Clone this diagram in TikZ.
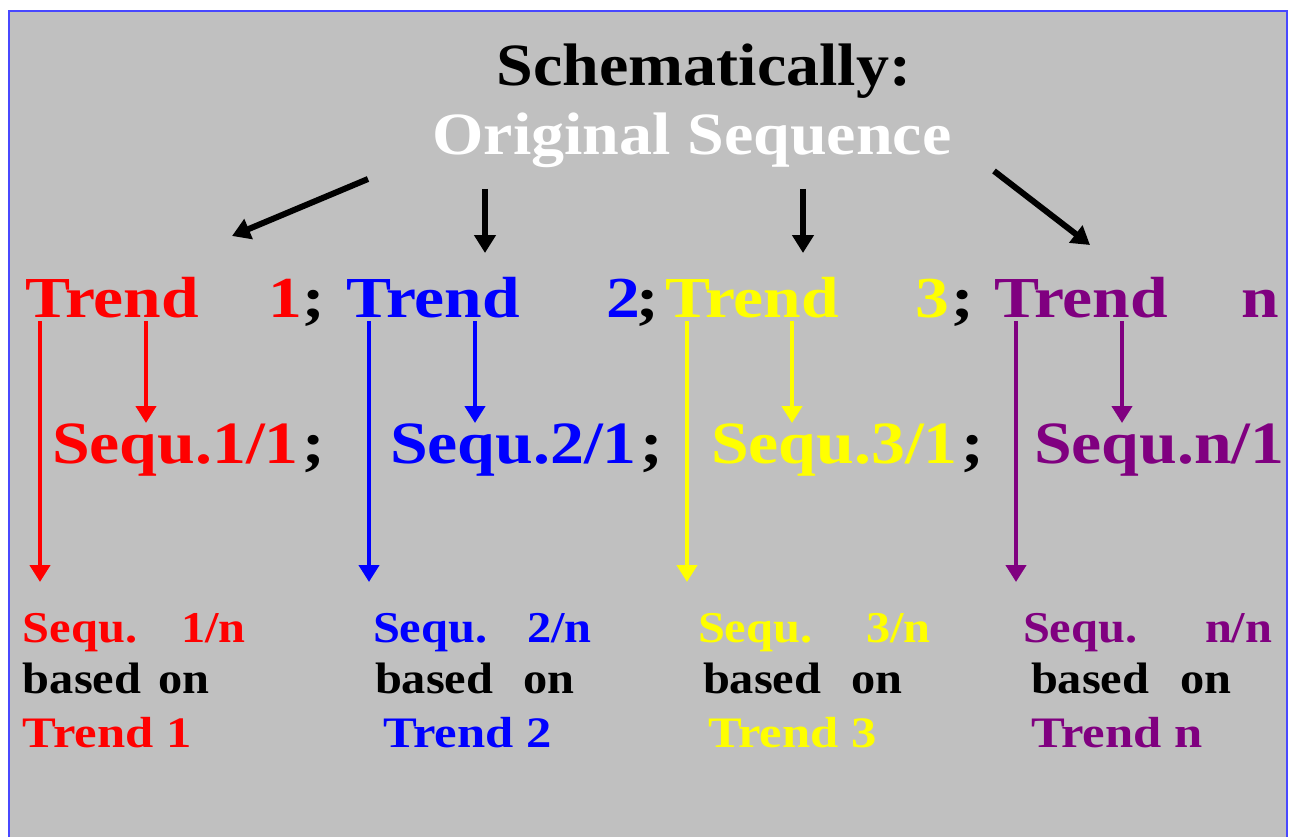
\documentclass[tikz,border=0pt]{standalone}
\usepackage{fontspec}
\setmainfont{Liberation Serif}[FakeStretch=1.1]
\newfontfamily\widefont{Liberation Serif}[FakeStretch=1.165]
\newfontfamily\midfont{Liberation Serif}[FakeStretch=1.13]
\usetikzlibrary{arrows.meta}
\definecolor{bggray}{HTML}{C0C0C0}
\definecolor{frameblue}{HTML}{4848FF}
\definecolor{tred}{HTML}{FF0000}
\definecolor{tblue}{HTML}{0000FF}
\definecolor{tyellow}{HTML}{FFFF00}
\definecolor{tpurple}{HTML}{800080}
\tikzset{
  txt/.style={inner sep=0pt, outer sep=0pt, anchor=base west, font=\bfseries},
  title/.style={txt, anchor=base, font=\bfseries\fontsize{60}{66}\selectfont},
  big/.style={txt, font=\widefont\bfseries\fontsize{58}{64}\selectfont},
  mid/.style={txt, font=\midfont\bfseries\fontsize{60}{66}\selectfont},
  small/.style={txt, font=\bfseries\fontsize{44}{50}\selectfont},
  smallwide/.style={txt, font=\widefont\bfseries\fontsize{43.5}{50}\selectfont},
  blackarr/.style={line width=6pt, -{Triangle[width=21pt,length=18pt]}, black},
  colarr/.style={line width=4.5pt, -{Triangle[width=20pt,length=17pt]}},
}
\begin{document}
\begin{tikzpicture}[x=1pt,y=-1pt]
\useasboundingbox (0,0) rectangle (1290,837);
\fill[white] (0,0) rectangle (1290,837);
\filldraw[fill=bggray, draw=frameblue, line width=2pt] (9,11) rectangle (1287,845);

% title
\node[title, text=black] (title) at (704,86) {Schematically:};
\node[title, text=white] (orig) at (692,155) {Original Sequence};

% row 2: trends
\node[big, text=tred] (t1) at (25,317) {Trend};
\node[big, text=tred] (n1) at (268,317) {1};
\node[big, text=black] (c1) at (302,317) {;};
\node[big, text=tblue] (t2) at (346,317) {Trend};
\node[big, text=tblue] (n2) at (606,317) {2};
\node[big, text=black] (c2) at (636,317) {;};
\node[big, text=tyellow] (t3) at (665,317) {Trend};
\node[big, text=tyellow] (n3) at (915,317) {3};
\node[big, text=black] (c3) at (951,317) {;};
\node[big, text=tpurple] (t4) at (994,317) {Trend};
\node[big, text=tpurple] (n4) at (1241,317) {n};

% row 3: first sequences
\node[mid, text=tred] (q1) at (52,463) {Sequ.1/1};
\node[mid, text=black] (d1) at (302,463) {;};
\node[mid, text=tblue] (q2) at (390,463) {Sequ.2/1};
\node[mid, text=black] (d2) at (640,463) {;};
\node[mid, text=tyellow] (q3) at (711,463) {Sequ.3/1};
\node[mid, text=black] (d3) at (961,463) {;};
\node[mid, text=tpurple] (q4) at (1034,463) {Sequ.n/1};

% row 4: bottom blocks
\node[small, text=tred] (s1) at (23,642) {Sequ.};
\node[small, text=tred] (f1) at (181,642) {1/n};
\node[small, text=black] (b1) at (23,693) {based};
\node[small, text=black] (o1) at (158,693) {on};
\node[smallwide, text=tred] (e1) at (23,747) {Trend 1};

\node[small, text=tblue] (s2) at (373,642) {Sequ.};
\node[small, text=tblue] (f2) at (527,642) {2/n};
\node[small, text=black] (b2) at (375,693) {based};
\node[small, text=black] (o2) at (523,693) {on};
\node[smallwide, text=tblue] (e2) at (383,747) {Trend 2};

\node[small, text=tyellow] (s3) at (698,642) {Sequ.};
\node[small, text=tyellow] (f3) at (866,642) {3/n};
\node[small, text=black] (b3) at (703,693) {based};
\node[small, text=black] (o3) at (851,693) {on};
\node[smallwide, text=tyellow] (e3) at (708,747) {Trend 3};

\node[small, text=tpurple] (s4) at (1023,642) {Sequ.};
\node[small, text=tpurple] (f4) at (1205,642) {n/n};
\node[small, text=black] (b4) at (1031,693) {based};
\node[small, text=black] (o4) at (1180,693) {on};
\node[smallwide, text=tpurple] (e4) at (1031,747) {Trend n};

% arrow end points
\coordinate (ba1) at (368,179); \coordinate (ba1e) at (232,236);
\coordinate (ba2) at (485,189); \coordinate (ba2e) at (485,253);
\coordinate (ba3) at (803,189); \coordinate (ba3e) at (803,253);
\coordinate (ba4) at (994,171); \coordinate (ba4e) at (1090,245);

\draw[blackarr] (ba1) -- (ba1e);
\draw[blackarr] (ba2) -- (ba2e);
\draw[blackarr] (ba3) -- (ba3e);
\draw[blackarr] (ba4) -- (ba4e);

\coordinate (l1) at (40,321);   \coordinate (l1e) at (40,582);
\coordinate (k1) at (146,321);  \coordinate (k1e) at (146,423);
\coordinate (l2) at (369,321);  \coordinate (l2e) at (369,582);
\coordinate (k2) at (475,321);  \coordinate (k2e) at (475,423);
\coordinate (l3) at (687,321);  \coordinate (l3e) at (687,582);
\coordinate (k3) at (792,321);  \coordinate (k3e) at (792,423);
\coordinate (l4) at (1016,321); \coordinate (l4e) at (1016,582);
\coordinate (k4) at (1122,321); \coordinate (k4e) at (1122,423);

\draw[colarr, tred] (l1) -- (l1e);
\draw[colarr, tred] (k1) -- (k1e);
\draw[colarr, tblue] (l2) -- (l2e);
\draw[colarr, tblue] (k2) -- (k2e);
\draw[colarr, tyellow] (l3) -- (l3e);
\draw[colarr, tyellow] (k3) -- (k3e);
\draw[colarr, tpurple] (l4) -- (l4e);
\draw[colarr, tpurple] (k4) -- (k4e);
\end{tikzpicture}
\end{document}
